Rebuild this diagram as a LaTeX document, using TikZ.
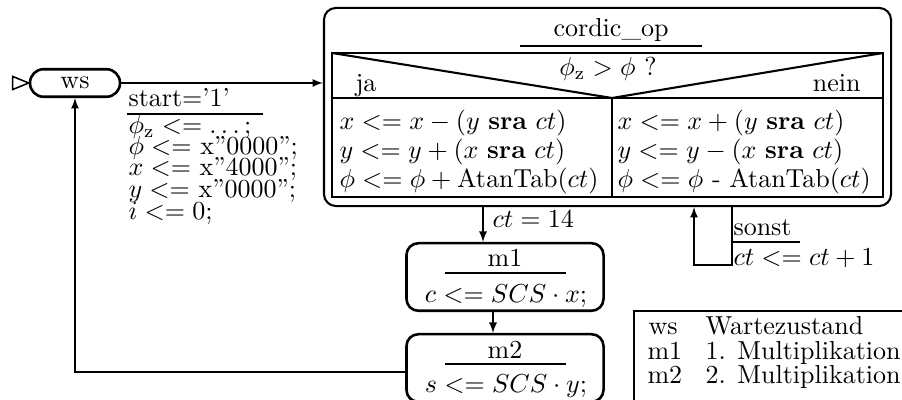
\documentclass[tikz,border=0pt]{standalone}
\usetikzlibrary{calc}
\tikzset{
  state/.style={draw, line width=1pt, rounded corners=4.6pt,
    minimum width=75.8pt, minimum height=26pt, inner sep=0pt},
  txt/.style={anchor=base west, inner sep=0pt},
  txtc/.style={anchor=base, inner sep=0pt},
  txte/.style={anchor=base east, inner sep=0pt},
  conn/.style={line width=0.4pt, -latex},
  rule/.style={line width=0.45pt},
  nsd/.style={line width=0.8pt},
}
\begin{document}
\begin{tikzpicture}[x=0.3846pt, y=-0.3846pt]
\useasboundingbox (0,0) rectangle (902,400);
\clip (0,0) rectangle (902,400);

% ---- waiting state with initial marker
\node[draw, line width=1pt, rounded corners=5.2pt, minimum width=34.6pt,
  minimum height=10.6pt, inner sep=0pt] (ws) at (75,83) {ws};
\draw[line width=0.6pt, fill=white] (ws.west) -- ++(-16,-6.5) -- ++(0,13) -- cycle;

% ---- CORDIC operation state
\node[draw, line width=0.8pt, rounded corners=4.6pt, minimum width=218.1pt,
  minimum height=76.2pt, inner sep=0pt] (cordic) at (607.5,107) {};
\node[txtc] (title) at (611,37) {cordic\_op};
\draw[rule] (520,46) -- (702,46);

% Nassi-Shneiderman decision inside the state
\draw[nsd] (332,53) rectangle (883,197);
\draw[nsd] (332,98) -- (883,98);
\draw[nsd] (332,53) -- (612,98) -- (883,53);
\draw[nsd] (612,98) -- (612,197);
\node[txtc] (cond) at (608,76) {$\phi_{\mathrm{z}} > \phi$ ?};
\node[txt]  (ja)   at (355,92) {ja};
\node[txte] (nein) at (861,92) {nein};

\node[txt] (ja1) at (339,130) {$x <= x - (y\ \mathbf{sra}\ ct)$};
\node[txt] (ja2) at (339,159) {$y <= y + (x\ \mathbf{sra}\ ct)$};
\node[txt] (ja3) at (339,188) {$\phi <= \phi + \mathrm{AtanTab}(ct)$};
\node[txt] (ne1) at (617,130) {$x <= x + (y\ \mathbf{sra}\ ct)$};
\node[txt] (ne2) at (617,159) {$y <= y - (x\ \mathbf{sra}\ ct)$};
\node[txt] (ne3) at (617,188) {$\phi <= \phi$ - AtanTab($ct$)};

% ---- multiplication states
\node[state] (m1) at (505,277) {};
\node[txtc] (m1t) at (505,267) {m1};
\draw[rule] (445,273) -- (566,273);
\node[txtc] (m1a) at (506,303) {$c <= SCS \cdot x;$};

\node[state] (m2) at (505,368) {};
\node[txtc] (m2t) at (505,359) {m2};
\draw[rule] (445,364) -- (566,364);
\node[txtc] (m2a) at (506,393) {$s <= SCS \cdot y;$};

% ---- transitions
\coordinate (dn1) at (483,0);
\coordinate (dn2) at (493,0);
\coordinate (loopR) at (732,265);
\coordinate (loopL) at (694,265);
\coordinate (back) at (0,372);

\draw[conn] (ws.east) -- (ws.east -| cordic.west);
\draw[conn] (cordic.south -| dn1) -- (m1.north -| dn1);
\draw[conn] (m1.south -| dn2) -- (m2.north -| dn2);
\draw[conn] (cordic.south -| loopR) -- (loopR) -- (loopL) -- (cordic.south -| loopL);
\draw[conn] (m2.west |- back) -| (ws.south);

% transition labels
\node[txt] (st) at (128,107) {start='1'};
\draw[rule] (127,114) -- (263,114);
\node[txt] (a1) at (128,134) {$\phi_{\mathrm{z}} <= \ldots;$};
\node[txt] (a2) at (128,155) {$\phi <=$ x''0000'';};
\node[txt] (a3) at (128,176) {$x <=$ x''4000'';};
\node[txt] (a4) at (128,198) {$y <=$ x''0000'';};
\node[txt] (a5) at (128,220) {$i <= 0;$};

\node[txt] (ct14) at (492,228) {$ct = 14$};

\node[txt] (sonst) at (733,236) {sonst};
\draw[rule] (733,242) -- (800,242);
\node[txt] (inc) at (733,266) {$ct <= ct + 1$};

% ---- legend
\draw[rule] (910,311) -- (634,311) -- (634,410);
\node[txt] (k1) at (648,335) {ws};
\node[txt] (v1) at (705,335) {Wartezustand};
\node[txt] (k2) at (647,360) {m1};
\node[txt] (v2) at (705,360) {1. Multiplikation};
\node[txt] (k3) at (647,384) {m2};
\node[txt] (v3) at (705,384) {2. Multiplikation};
\end{tikzpicture}
\end{document}
